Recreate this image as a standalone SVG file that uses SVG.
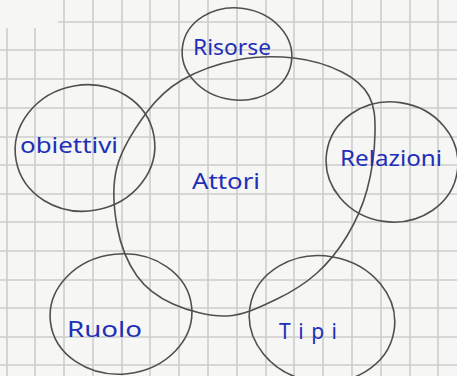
<svg xmlns="http://www.w3.org/2000/svg" width="457" height="376" viewBox="0 0 457 376">
<style>
.grid line{stroke:#cdcdcd;stroke-width:1.6}
.ink{fill:none;stroke:#505050;stroke-width:1.6}
.lbl{font-family:"Noto Sans","DejaVu Sans",sans-serif;fill:#1f2fb8;font-size:21px}
</style>
<rect width="457" height="376" fill="#f6f6f4"/>
<g class="grid">
<line x1="7" y1="28" x2="7" y2="376"/>
<line x1="35" y1="28" x2="35" y2="376"/>
<line x1="64" y1="0" x2="64" y2="376"/>
<line x1="93" y1="0" x2="93" y2="376"/>
<line x1="122" y1="0" x2="122" y2="376"/>
<line x1="150" y1="0" x2="150" y2="376"/>
<line x1="179" y1="0" x2="179" y2="376"/>
<line x1="208" y1="0" x2="208" y2="376"/>
<line x1="237" y1="0" x2="237" y2="376"/>
<line x1="266" y1="0" x2="266" y2="376"/>
<line x1="294" y1="0" x2="294" y2="376"/>
<line x1="323" y1="0" x2="323" y2="376"/>
<line x1="352" y1="0" x2="352" y2="376"/>
<line x1="381" y1="0" x2="381" y2="376"/>
<line x1="410" y1="0" x2="410" y2="376"/>
<line x1="438" y1="0" x2="438" y2="376"/>
<line x1="58" y1="22" x2="457" y2="22"/>
<line x1="0" y1="50" x2="457" y2="50"/>
<line x1="0" y1="79" x2="457" y2="79"/>
<line x1="0" y1="108" x2="457" y2="108"/>
<line x1="0" y1="137" x2="457" y2="137"/>
<line x1="0" y1="165" x2="457" y2="165"/>
<line x1="0" y1="194" x2="457" y2="194"/>
<line x1="0" y1="222" x2="457" y2="222"/>
<line x1="0" y1="251" x2="457" y2="251"/>
<line x1="0" y1="280" x2="457" y2="280"/>
<line x1="0" y1="308" x2="457" y2="308"/>
<line x1="0" y1="337" x2="457" y2="337"/>
<line x1="0" y1="365" x2="457" y2="365"/>
</g>
<g id="connectors"></g>
<g id="attori">
<path class="ink" d="M147,112 C157.8,97.5 167,88.7 182,80 C197,71.3 218.3,63.7 237,60 C255.7,56.3 276.5,56 294,58 C311.5,60 329.5,65.7 342,72 C354.5,78.3 363.5,85.8 369,96 C374.5,106.2 375.3,117.3 375,133 C374.7,148.7 371.7,172.8 367,190 C362.3,207.2 355.3,222.2 347,236 C338.7,249.8 328.7,262.5 317,273 C305.3,283.5 292,291.8 277,299 C262,306.2 244.3,315.2 227,316 C209.7,316.8 188,310.7 173,304 C158,297.3 146.3,289 137,276 C127.7,263 120.3,244.2 117,226 C113.7,207.8 112,186 117,167 C122,148 136.2,126.5 147,112 Z"/>
<text class="lbl" x="192" y="189" textLength="68" lengthAdjust="spacingAndGlyphs">Attori</text>
</g>
<g id="risorse">
<ellipse class="ink" cx="237" cy="54" rx="55" ry="46" transform="rotate(8 237 54)"/>
<text class="lbl" x="193" y="55" textLength="78" lengthAdjust="spacingAndGlyphs">Risorse</text>
</g>
<g id="obiettivi">
<ellipse class="ink" cx="85" cy="148" rx="70" ry="63" transform="rotate(-10 85 148)"/>
<text class="lbl" x="20" y="153" textLength="98" lengthAdjust="spacingAndGlyphs">obiettivi</text>
</g>
<g id="relazioni">
<ellipse class="ink" cx="392" cy="162" rx="66" ry="60" transform="rotate(8 392 162)"/>
<text class="lbl" x="340" y="166" textLength="102" lengthAdjust="spacingAndGlyphs">Relazioni</text>
</g>
<g id="ruolo">
<ellipse class="ink" cx="121" cy="314" rx="71" ry="60" transform="rotate(-6 121 314)"/>
<text class="lbl" x="67" y="337" textLength="75" lengthAdjust="spacingAndGlyphs">Ruolo</text>
</g>
<g id="tipi">
<ellipse class="ink" cx="322" cy="319" rx="73" ry="63" transform="rotate(10 322 319)"/>
<text class="lbl" x="279" y="339" textLength="58" lengthAdjust="spacing">Tipi</text>
</g>
</svg>
